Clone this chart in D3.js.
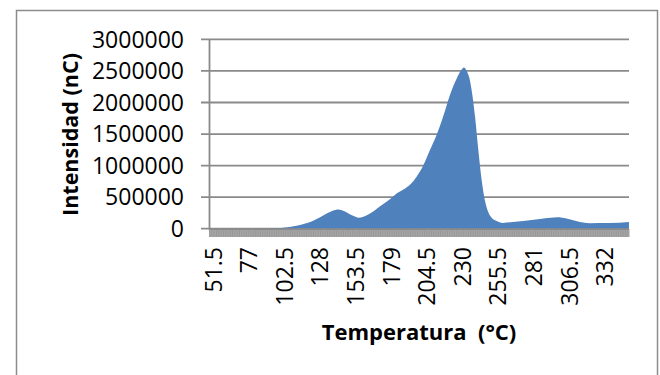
<!DOCTYPE html>
<html>
<head>
<meta charset="utf-8">
<script src="https://cdn.jsdelivr.net/npm/d3@7/dist/d3.min.js"></script>
<style>
  html, body { margin: 0; padding: 0; background: #fff; }
  svg { display: block; }
  text { font-family: "Open Sans", sans-serif; fill: #000; }
</style>
</head>
<body>
<svg id="chart" width="660" height="375"></svg>
<script>
// ---- data ----
const temperatures = [51.5, 70, 90, 100, 106, 112, 118, 123, 128, 133, 137, 141, 145, 148, 152, 155.5, 159, 164, 171, 178, 183, 188, 192.5, 197, 202, 206.5, 211.5, 216, 221, 226, 229, 231, 233, 235, 236.5, 239, 241.3, 243.7, 246, 248.5, 251, 254, 259, 266, 273.5, 285.5, 293, 298, 304.5, 310, 314, 321, 335, 349.2];
const intensities  = [0, 0, 2000, 10000, 25000, 50000, 85000, 127000, 180000, 245000, 285000, 305000, 280000, 244000, 200000, 175000, 190000, 244000, 355000, 466000, 561000, 625000, 700000, 820000, 1010000, 1240000, 1490000, 1770000, 2120000, 2390000, 2510000, 2555000, 2500000, 2380000, 2200000, 1770000, 1250000, 770000, 450000, 260000, 170000, 125000, 92000, 105000, 122000, 154000, 172000, 180000, 160000, 130000, 106000, 88000, 90000, 106000];
const xTickLabels = [51.5, 77, 102.5, 128, 153.5, 179, 204.5, 230, 255.5, 281, 306.5, 332];
const yTickValues = [0, 500000, 1000000, 1500000, 2000000, 2500000, 3000000];
const categoryStart = 48.75, categoryEnd = 349.25, categoryStep = 0.5;

const svg = d3.select("#chart");
const gridColor = "#8a8a8a";

// outer frame
svg.append("rect")
  .attr("x", 16.5).attr("y", 10.5).attr("width", 641).attr("height", 420)
  .attr("fill", "none").attr("stroke", "#8c8c8c").attr("stroke-width", 1.5);

const x = d3.scaleLinear().domain([categoryStart, categoryEnd]).range([209.5, 629]);
const y = d3.scaleLinear().domain([0, 3000000]).range([228.7, 39.4]);

// gridlines + y tick marks
svg.append("g").selectAll("line").data(yTickValues).join("line")
  .attr("x1", 201).attr("x2", 629)
  .attr("y1", d => y(d)).attr("y2", d => y(d))
  .attr("stroke", gridColor).attr("stroke-width", 1.8);

// y tick labels
svg.append("g").selectAll("text").data(yTickValues).join("text")
  .attr("x", 184).attr("y", d => y(d)).attr("dy", "0.36em")
  .attr("text-anchor", "end").attr("font-size", 23)
  .text(d => d3.format("d")(d));

// area
const pts = temperatures.map((t, i) => [t, intensities[i]]);
const area = d3.area()
  .x(d => x(d[0])).y0(y(0)).y1(d => y(d[1]))
  .curve(d3.curveMonotoneX);
svg.append("path").datum(pts).attr("d", area).attr("fill", "#4F81BD");

// y axis line
svg.append("line").attr("x1", 209.5).attr("x2", 209.5).attr("y1", y(3000000)).attr("y2", 229.5)
  .attr("stroke", gridColor).attr("stroke-width", 1.8);

// x category tick marks (dense)
const cats = d3.range(categoryStart, categoryEnd + 0.001, categoryStep);
svg.append("g").selectAll("line").data(cats).join("line")
  .attr("x1", d => x(d)).attr("x2", d => x(d))
  .attr("y1", 229).attr("y2", 237)
  .attr("stroke", "#8a8a8a").attr("stroke-width", 0.8);
svg.append("line").attr("x1", 209.5).attr("x2", 629).attr("y1", 229).attr("y2", 229)
  .attr("stroke", gridColor).attr("stroke-width", 1.5);

// x tick labels (rotated)
svg.append("g").selectAll("text").data(xTickLabels).join("text")
  .attr("transform", d => `translate(${x(d)},247) rotate(-90)`)
  .attr("dy", "0.36em").attr("text-anchor", "end").attr("font-size", 23)
  .text(d => d);

// axis titles
svg.append("text")
  .attr("transform", "translate(70,134.5) rotate(-90)")
  .attr("dy", "0.36em").attr("text-anchor", "middle")
  .attr("font-size", 21.5).attr("font-weight", "bold")
  .text("Intensidad (nC)");
svg.append("text")
  .attr("x", 419).attr("y", 340).attr("text-anchor", "middle")
  .attr("font-size", 22).attr("font-weight", "bold")
  .attr("xml:space", "preserve")
  .text("Temperatura  (°C)");
</script>
</body>
</html>
